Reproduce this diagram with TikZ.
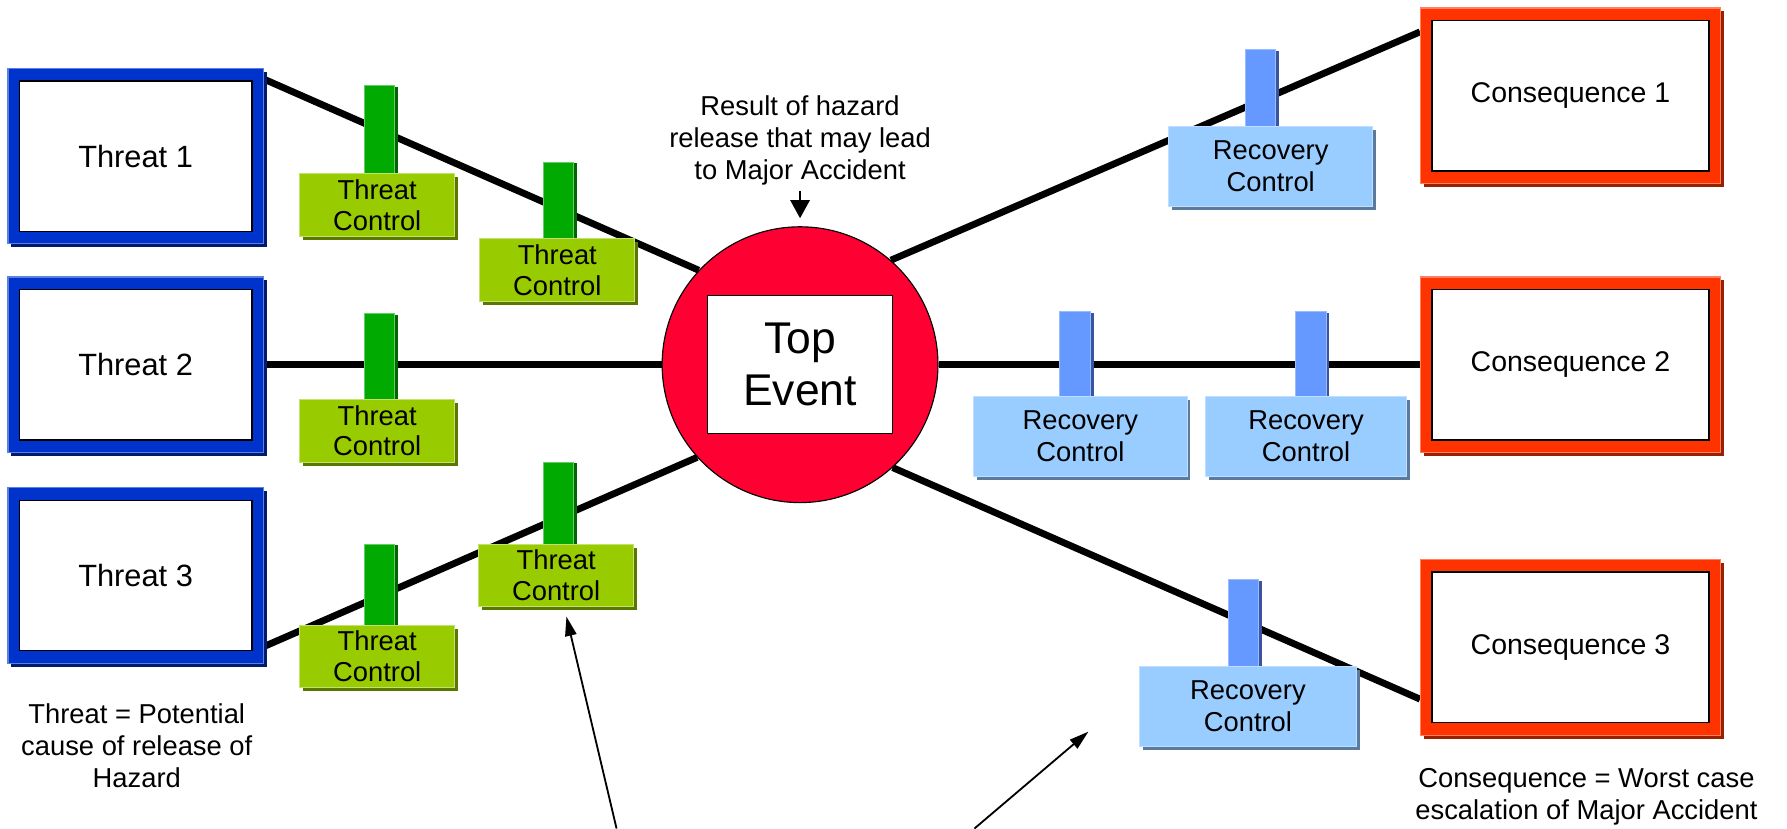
\documentclass[tikz,border=0pt]{standalone}
\usepackage{fontspec}
\setmainfont{Liberation Sans}
\usetikzlibrary{shadows,backgrounds,arrows.meta}

\definecolor{threatBlue}{HTML}{0033CC}
\definecolor{threatBlueL}{HTML}{5C7FE0}
\definecolor{threatBlueD}{HTML}{001A70}
\definecolor{consRed}{HTML}{FF3300}
\definecolor{consRedL}{HTML}{FF8060}
\definecolor{consRedD}{HTML}{992000}
\definecolor{topRed}{HTML}{FF0033}
\definecolor{stemGreen}{HTML}{00AA00}
\definecolor{stemGreenL}{HTML}{66CC66}
\definecolor{stemGreenD}{HTML}{006600}
\definecolor{ctrlGreen}{HTML}{99CC00}
\definecolor{ctrlGreenL}{HTML}{C4E070}
\definecolor{ctrlGreenD}{HTML}{5A7800}
\definecolor{stemBlue}{HTML}{6699FF}
\definecolor{stemBlueL}{HTML}{99BBFF}
\definecolor{stemBlueD}{HTML}{3A55A0}
\definecolor{ctrlBlue}{HTML}{99CCFF}
\definecolor{ctrlBlueL}{HTML}{C0DEFF}
\definecolor{ctrlBlueD}{HTML}{5A7A9E}

\begin{document}
\begin{tikzpicture}[
        x=1pt, y=-1pt,
        every node/.style={inner sep=0pt, align=center},
        nodeThreat/.style={rectangle, fill=threatBlue, draw=threatBlueL, line width=1pt, minimum width=224pt, minimum height=154pt, drop shadow={shadow xshift=3pt, shadow yshift=-3pt, fill=threatBlueD, opacity=1}},
        nodeCons/.style={rectangle, fill=consRed, draw=consRedL, line width=1pt, minimum width=263pt, minimum height=154pt, drop shadow={shadow xshift=3pt, shadow yshift=-3pt, fill=consRedD, opacity=1}},
        nodeWhite/.style={rectangle, fill=white, draw=black, line width=1.2pt, minimum height=132pt},
        nodeTop/.style={circle, fill=topRed, draw=black, line width=1pt, minimum size=242pt},
        stemGreen/.style={rectangle, anchor=north, fill=stemGreen, draw=stemGreenL, line width=0.8pt, minimum width=27pt, drop shadow={shadow xshift=3pt, shadow yshift=-1pt, fill=stemGreenD, opacity=1}},
        ctrlGreen/.style={rectangle, fill=ctrlGreen, draw=ctrlGreenL, line width=0.8pt, minimum width=136pt, minimum height=55pt, font=\fontsize{24pt}{27pt}\selectfont, drop shadow={shadow xshift=3pt, shadow yshift=-3pt, fill=ctrlGreenD, opacity=1}},
        stemBlue/.style={rectangle, anchor=north, fill=stemBlue, draw=stemBlueL, line width=0.8pt, minimum width=27pt, drop shadow={shadow xshift=3pt, shadow yshift=-1pt, fill=stemBlueD, opacity=1}},
        ctrlBlue/.style={rectangle, fill=ctrlBlue, draw=ctrlBlueL, line width=0.8pt, minimum height=70pt, font=\fontsize{24pt}{28pt}\selectfont, drop shadow={shadow xshift=3pt, shadow yshift=-3pt, fill=ctrlBlueD, opacity=1}},
        noteText/.style={font=\fontsize{24pt}{28pt}\selectfont},
        linkLine/.style={draw, line width=6pt},
        noteArrow/.style={-{Triangle[length=17pt,width=10pt]}, line width=1.6pt}
        ]
        \useasboundingbox (0,0) rectangle (1568,727);

        % threats and consequences
        \node [nodeThreat] (threat1) at (119,137) {};
        \node [nodeWhite, minimum width=204pt, font=\fontsize{27pt}{32pt}\selectfont] at (threat1) {Threat 1};
        \node [nodeThreat] (threat2) at (119,320) {};
        \node [nodeWhite, minimum width=204pt, font=\fontsize{27pt}{32pt}\selectfont] at (threat2) {Threat 2};
        \node [nodeThreat] (threat3) at (119,505) {};
        \node [nodeWhite, minimum width=204pt, font=\fontsize{27pt}{32pt}\selectfont] at (threat3) {Threat 3};

        \node [nodeCons] (cons1) at (1378,84) {};
        \node [nodeWhite, minimum width=243pt, font=\fontsize{25pt}{30pt}\selectfont] at (cons1) {Consequence 1};
        \node [nodeCons] (cons2) at (1378,320) {};
        \node [nodeWhite, minimum width=243pt, font=\fontsize{25pt}{30pt}\selectfont] at (cons2) {Consequence 2};
        \node [nodeCons] (cons3) at (1378,568) {};
        \node [nodeWhite, minimum width=243pt, font=\fontsize{25pt}{30pt}\selectfont] at (cons3) {Consequence 3};

        \node [nodeTop] (te) at (702,320) {};
        \node [nodeWhite, minimum width=162pt, minimum height=121pt, font=\fontsize{39pt}{46pt}\selectfont] at (te) {Top\\Event};

        \begin{scope}[on background layer]
        \draw[linkLine] (threat1.31) -- (te.137);
        \draw[linkLine] (threat2.east) -- (te.west);
        \draw[linkLine] (threat3.-29) -- (te.222);
        \draw[linkLine] (te.49) -- (cons1.157);
        \draw[linkLine] (te.east) -- (cons2.west);
        \draw[linkLine] (te.-48) -- (cons3.-161);
        \end{scope}

        % threat controls
        \node [stemGreen, minimum height=80pt] (s1a) at (333,75) {};
        \node [ctrlGreen] (tc1a) at (331,180) {Threat\\Control};
        \node [stemGreen, minimum height=70pt] (s1b) at (490,142) {};
        \node [ctrlGreen] (tc1b) at (489,237) {Threat\\Control};
        \node [stemGreen, minimum height=78pt] (s2) at (333,275) {};
        \node [ctrlGreen] (tc2) at (331,378) {Threat\\Control};
        \node [stemGreen, minimum height=74pt] (s3a) at (333,477) {};
        \node [ctrlGreen] (tc3a) at (331,576) {Threat\\Control};
        \node [stemGreen, minimum height=75pt] (s3b) at (490,405) {};
        \node [ctrlGreen] (tc3b) at (488,505) {Threat\\Control};

        % recovery controls
        \node [stemBlue, minimum height=70pt] (r1) at (1106,43) {};
        \node [ctrlBlue, minimum width=179pt] (rc1) at (1115,146) {Recovery\\Control};
        \node [stemBlue, minimum height=78pt] (r2a) at (943,273) {};
        \node [ctrlBlue, minimum width=187pt] (rc2a) at (948,383) {Recovery\\Control};
        \node [stemBlue, minimum height=78pt] (r2b) at (1150,273) {};
        \node [ctrlBlue, minimum width=177pt] (rc2b) at (1146,383) {Recovery\\Control};
        \node [stemBlue, minimum height=80pt] (r3) at (1091,508) {};
        \node [ctrlBlue, minimum width=190pt] (rc3) at (1095,620) {Recovery\\Control};

        % notes
        \node [noteText] (result) at (702,123) {Result of hazard\\release that may lead\\to Major Accident};
        \node [noteText] (threatNote) at (120,654) {Threat = Potential\\cause of release of\\Hazard};
        \node [noteText] (consNote) at (1392,699) {Consequence = Worst case\\escalation of Major Accident};

        \draw[-{Triangle[length=16pt,width=17pt]}, line width=2pt, shorten <=5pt, shorten >=7pt] (result.south) -- (te.north);

        \coordinate (tailA) at (541,727);
        \coordinate (tipA) at (497,541);
        \coordinate (tailB) at (855,727);
        \coordinate (tipB) at (955,642);
        \draw[noteArrow] (tailA) -- (tipA);
        \draw[noteArrow] (tailB) -- (tipB);
    \end{tikzpicture}
\end{document}
